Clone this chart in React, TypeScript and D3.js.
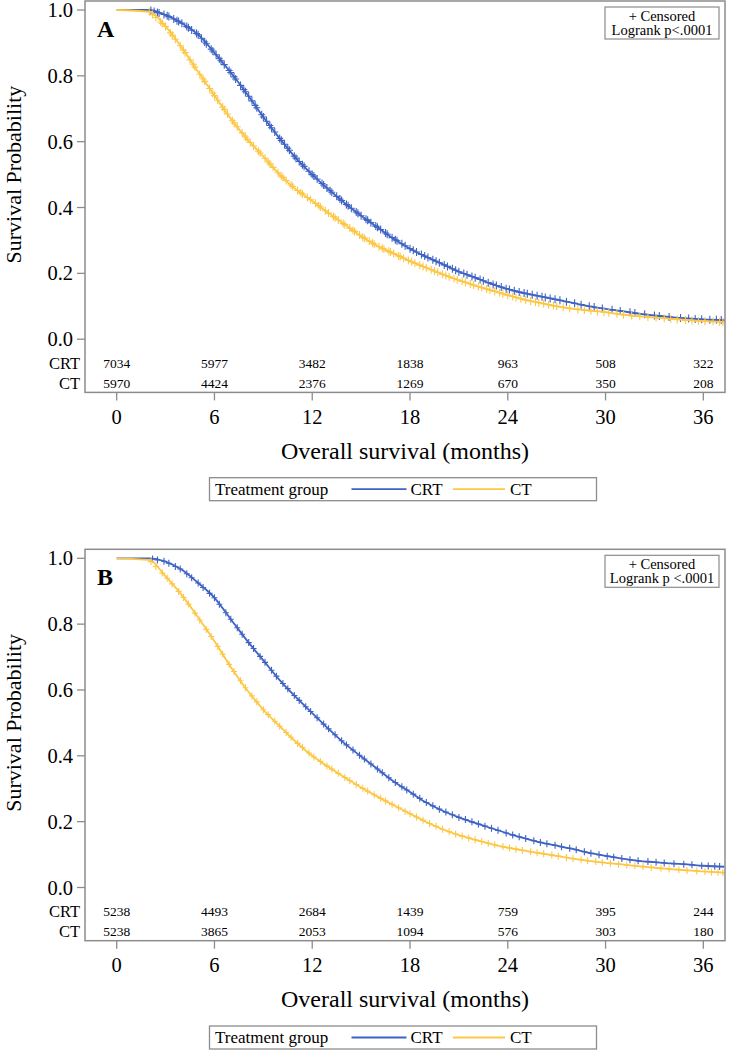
import React from 'react';
import * as d3 from 'd3';

// ---------- DATA ----------
const months = [0, 2, 3, 4, 5, 6, 7, 8, 9, 10, 11, 12, 13, 14, 15, 16, 17, 18, 19, 20, 21, 22, 23, 24, 25, 26, 27, 28, 29, 30, 31, 32, 33, 34, 35, 36, 37.3];

const survA_CRT = [1, 1.0, 0.985, 0.96, 0.925, 0.87, 0.81, 0.745, 0.675, 0.61, 0.55, 0.5, 0.455, 0.413, 0.375, 0.34, 0.305, 0.275, 0.25, 0.228, 0.205, 0.187, 0.168, 0.152, 0.14, 0.13, 0.12, 0.11, 0.1, 0.092, 0.085, 0.078, 0.072, 0.067, 0.063, 0.06, 0.058];
const survA_CT = [1, 0.995, 0.95, 0.885, 0.812, 0.74, 0.67, 0.608, 0.555, 0.5, 0.455, 0.42, 0.383, 0.348, 0.313, 0.283, 0.26, 0.237, 0.217, 0.197, 0.179, 0.163, 0.148, 0.134, 0.12, 0.11, 0.1, 0.092, 0.087, 0.082, 0.075, 0.07, 0.066, 0.062, 0.058, 0.055, 0.052];
const survB_CRT = [1, 1.0, 0.99, 0.965, 0.925, 0.88, 0.815, 0.75, 0.69, 0.63, 0.578, 0.53, 0.482, 0.437, 0.398, 0.36, 0.322, 0.29, 0.258, 0.233, 0.213, 0.196, 0.18, 0.164, 0.15, 0.137, 0.127, 0.117, 0.105, 0.096, 0.088, 0.081, 0.077, 0.073, 0.07, 0.066, 0.063];
const survB_CT = [1, 0.995, 0.945, 0.888, 0.82, 0.748, 0.67, 0.6, 0.54, 0.49, 0.442, 0.4, 0.366, 0.334, 0.304, 0.276, 0.25, 0.224, 0.199, 0.177, 0.159, 0.145, 0.132, 0.121, 0.112, 0.104, 0.096, 0.088, 0.081, 0.075, 0.07, 0.065, 0.06, 0.056, 0.052, 0.049, 0.045];

const censorA_CRT = [2.1, 2.3, 2.5, 2.6, 2.9, 3.1, 3.2, 3.5, 3.7, 3.8, 4.0, 4.3, 4.4, 4.6, 4.9, 5.0, 5.2, 5.4, 5.5, 5.8, 5.9, 6.1, 6.3, 6.4, 6.6, 6.9, 7.0, 7.2, 7.3, 7.6, 7.8, 7.9, 8.1, 8.3, 8.5, 8.6, 8.9, 9.0, 9.2, 9.4, 9.5, 9.7, 10.0, 10.1, 10.3, 10.5, 10.6, 10.9, 11.0, 11.2, 11.4, 11.5, 11.8, 12.0, 12.1, 12.3, 12.6, 12.7, 12.9, 13.1, 13.2, 13.5, 13.7, 13.8, 14.1, 14.2, 14.4, 14.7, 14.8, 15.0, 15.3, 15.4, 15.6, 15.9, 16.0, 16.2, 16.5, 16.6, 16.9, 17.1, 17.2, 17.5, 17.7, 18.0, 18.2, 18.4, 18.7, 18.9, 19.1, 19.4, 19.6, 19.8, 20.1, 20.3, 20.6, 20.8, 21.0, 21.3, 21.5, 21.8, 22.0, 22.3, 22.5, 22.8, 23.1, 23.3, 23.6, 23.9, 24.1, 24.4, 24.7, 25.0, 25.2, 25.5, 25.8, 26.1, 26.3, 26.6, 26.9, 27.2, 27.6, 28.1, 28.5, 29.0, 29.3, 29.8, 30.4, 30.9, 31.5, 31.8, 32.4, 33.0, 33.3, 33.9, 34.6, 35.1, 35.5, 35.9, 36.4, 36.8, 37.1];
const censorA_CT = [2.0, 2.2, 2.4, 2.7, 2.8, 3.0, 3.3, 3.4, 3.6, 3.9, 4.1, 4.2, 4.5, 4.7, 4.8, 5.1, 5.3, 5.4, 5.7, 5.9, 6.0, 6.2, 6.5, 6.6, 6.8, 7.1, 7.2, 7.4, 7.7, 7.9, 8.0, 8.2, 8.4, 8.7, 8.8, 9.1, 9.3, 9.4, 9.6, 9.9, 10.1, 10.2, 10.4, 10.7, 10.8, 11.1, 11.3, 11.4, 11.7, 11.9, 12.2, 12.4, 12.5, 12.8, 13.0, 13.3, 13.4, 13.6, 13.9, 14.0, 14.3, 14.5, 14.6, 14.9, 15.1, 15.2, 15.5, 15.7, 15.8, 16.1, 16.3, 16.4, 16.7, 16.8, 17.0, 17.3, 17.4, 17.6, 17.9, 18.1, 18.3, 18.6, 18.8, 19.0, 19.3, 19.5, 19.7, 20.0, 20.2, 20.4, 20.7, 20.9, 21.2, 21.4, 21.7, 21.9, 22.2, 22.4, 22.7, 22.9, 23.2, 23.5, 23.7, 24.0, 24.3, 24.5, 24.8, 25.1, 25.4, 25.7, 25.9, 26.2, 26.5, 26.8, 27.0, 27.4, 27.8, 28.3, 28.7, 29.1, 29.5, 29.9, 30.2, 30.7, 31.1, 31.6, 32.1, 32.6, 33.1, 33.6, 34.0, 34.4, 34.9, 35.3, 35.7, 36.1, 36.6, 37.0, 37.2];
const censorB_CRT = [2.2, 2.5, 2.9, 3.2, 3.6, 3.9, 4.3, 4.6, 5.0, 5.3, 5.7, 6.0, 6.3, 6.7, 7.0, 7.4, 7.7, 8.1, 8.4, 8.8, 9.1, 9.5, 9.8, 10.2, 10.5, 10.9, 11.2, 11.6, 11.9, 12.3, 12.7, 13.0, 13.4, 13.8, 14.1, 14.5, 14.9, 15.2, 15.6, 16.0, 16.3, 16.7, 17.1, 17.5, 17.8, 18.2, 18.6, 19.0, 19.4, 19.8, 20.2, 20.6, 21.0, 21.4, 21.8, 22.2, 22.6, 23.0, 23.4, 23.9, 24.3, 24.7, 25.1, 25.6, 26.0, 26.4, 26.9, 27.3, 27.8, 28.2, 28.7, 29.1, 29.6, 30.1, 30.5, 31.0, 31.5, 32.0, 32.6, 33.1, 33.6, 34.2, 34.8, 35.3, 35.9, 36.3, 36.7, 37.0];
const censorB_CT = [2.1, 2.4, 2.8, 3.1, 3.4, 3.8, 4.1, 4.4, 4.8, 5.1, 5.5, 5.8, 6.2, 6.5, 6.9, 7.2, 7.6, 7.9, 8.3, 8.6, 9.0, 9.3, 9.7, 10.0, 10.4, 10.7, 11.1, 11.4, 11.8, 12.1, 12.5, 12.9, 13.2, 13.6, 14.0, 14.3, 14.7, 15.1, 15.4, 15.8, 16.2, 16.5, 16.9, 17.3, 17.7, 18.0, 18.4, 18.8, 19.2, 19.6, 20.0, 20.4, 20.8, 21.2, 21.6, 22.0, 22.4, 22.8, 23.2, 23.7, 24.1, 24.5, 24.9, 25.4, 25.8, 26.2, 26.7, 27.1, 27.6, 28.0, 28.5, 28.9, 29.4, 29.8, 30.3, 30.8, 31.3, 31.8, 32.3, 32.8, 33.4, 33.9, 34.5, 35.0, 35.6, 36.1, 36.5, 36.9, 37.2];

const xTicks = [0, 6, 12, 18, 24, 30, 36];
const yTicks = [0, 0.2, 0.4, 0.6, 0.8, 1.0];
const groups = ['CRT', 'CT'];
const atRiskA_CRT = [7034, 5977, 3482, 1838, 963, 508, 322];
const atRiskA_CT = [5970, 4424, 2376, 1269, 670, 350, 208];
const atRiskB_CRT = [5238, 4493, 2684, 1439, 759, 395, 244];
const atRiskB_CT = [5238, 3865, 2053, 1094, 576, 303, 180];

// ---------- STYLE ----------
const BLUE = '#3f63c4';
const YELLOW = '#fdc746';
const FRAME = '#8c8c8c';
const FONT = '"Liberation Serif", "Times New Roman", serif';

const L = 85, R = 725;

type PanelProps = {
  oy: number;
  letter: string;
  crt: number[];
  ct: number[];
  cCrt: number[];
  cCt: number[];
  riskCrt: number[];
  riskCt: number[];
  logrank: string;
  markW: number;
  markH: number;
};

function Panel({ oy, letter, crt, ct, cCrt, cCt, riskCrt, riskCt, logrank, markW, markH }: PanelProps) {
  const x = d3.scaleLinear().domain([-1.945, 37.33]).range([L, R]);
  const y = d3.scaleLinear().domain([0, 1]).range([oy + 339.2, oy + 10]);
  const top = oy + 1;
  const bottom = oy + 392.4;

  const line = d3
    .line<number>()
    .x((_, i) => x(months[i]))
    .y((d) => y(d))
    .curve(d3.curveMonotoneX);

  const series = [
    { vals: crt, cens: cCrt, color: BLUE },
    { vals: ct, cens: cCt, color: YELLOW },
  ];

  const plusPath = (vals: number[], cens: number[]) => {
    const interp = d3.scaleLinear().domain(months).range(vals);
    return cens
      .map((t) => {
        const cx = x(t);
        const cy = y(interp(t));
        return `M${cx - markW},${cy}h${2 * markW}M${cx},${cy - markH}v${2 * markH}`;
      })
      .join('');
  };

  const yMid = (y(0) + y(1)) / 2;
  const legY = oy + 477.7;

  return (
    <g>
      <defs>
        <clipPath id={`clip-${letter}`}>
          <rect x={L} y={top} width={R - L} height={bottom - top} />
        </clipPath>
      </defs>
      {/* curves */}
      <g clipPath={`url(#clip-${letter})`}>
        {series.map((s, k) => (
          <g key={k}>
            <path d={line(s.vals) || ''} fill="none" stroke={s.color} strokeWidth={1.8} />
            <path d={plusPath(s.vals, s.cens)} fill="none" stroke={s.color} strokeWidth={1.1} />
          </g>
        ))}
      </g>
      {/* frame */}
      <rect x={L} y={top} width={R - L} height={bottom - top} fill="none" stroke={FRAME} strokeWidth={1.5} />
      {/* y ticks */}
      {yTicks.map((t) => (
        <g key={t}>
          <line x1={L - 8} x2={L} y1={y(t)} y2={y(t)} stroke={FRAME} strokeWidth={1.3} />
          <text x={L - 12} y={y(t) + 7} textAnchor="end" fontSize={20.5} fontFamily={FONT}>
            {t.toFixed(1)}
          </text>
        </g>
      ))}
      {/* y label */}
      <text
        transform={`translate(21,${yMid}) rotate(-90)`}
        textAnchor="middle"
        fontSize={22}
        fontFamily={FONT}
      >
        Survival Probability
      </text>
      {/* panel letter */}
      <text x={97} y={oy + 37} fontSize={24} fontWeight="bold" fontFamily={FONT}>
        {letter}
      </text>
      {/* censor legend */}
      <rect x={605} y={oy + 7} width={114} height={32} fill="white" stroke={FRAME} strokeWidth={1.2} />
      <text x={662} y={oy + 20.5} textAnchor="middle" fontSize={14.5} fontFamily={FONT}>
        + Censored
      </text>
      <text x={662} y={oy + 35} textAnchor="middle" fontSize={14.5} fontFamily={FONT}>
        {logrank}
      </text>
      {/* at risk table */}
      {[riskCrt, riskCt].map((row, r) => (
        <g key={r}>
          <text x={80} y={oy + 369 + r * 20} textAnchor="end" fontSize={16.5} fontFamily={FONT}>
            {groups[r]}
          </text>
          {row.map((v, i) => (
            <text key={i} x={x(xTicks[i])} y={oy + 368 + r * 20} textAnchor="middle" fontSize={13.5} fontFamily={FONT}>
              {v}
            </text>
          ))}
        </g>
      ))}
      {/* x ticks */}
      {xTicks.map((t) => (
        <g key={t}>
          <line x1={x(t)} x2={x(t)} y1={bottom} y2={bottom + 8} stroke={FRAME} strokeWidth={1.3} />
          <text x={x(t)} y={oy + 424} textAnchor="middle" fontSize={20.5} fontFamily={FONT}>
            {t}
          </text>
        </g>
      ))}
      <text x={(L + R) / 2} y={oy + 459} textAnchor="middle" fontSize={24} fontFamily={FONT}>
        Overall survival (months)
      </text>
      {/* group legend */}
      <rect x={209.5} y={legY} width={387} height={23} fill="white" stroke={FRAME} strokeWidth={1.3} />
      <text x={215} y={legY + 17} fontSize={17} fontFamily={FONT}>
        Treatment group
      </text>
      <line x1={351.5} x2={406.5} y1={legY + 11.5} y2={legY + 11.5} stroke={BLUE} strokeWidth={1.8} />
      <text x={410.5} y={legY + 17} fontSize={17} fontFamily={FONT}>
        {groups[0]}
      </text>
      <line x1={453} x2={505} y1={legY + 11.5} y2={legY + 11.5} stroke={YELLOW} strokeWidth={1.8} />
      <text x={510} y={legY + 17} fontSize={17} fontFamily={FONT}>
        {groups[1]}
      </text>
    </g>
  );
}

export default function App() {
  return (
    <svg
      width={730}
      height={1050}
      viewBox="0 0 730 1050"
      style={{ position: 'absolute', left: 0, top: 0, background: 'white' }}
    >
      <rect width={730} height={1050} fill="white" />
      <Panel
        oy={0}
        letter="A"
        crt={survA_CRT}
        ct={survA_CT}
        cCrt={censorA_CRT}
        cCt={censorA_CT}
        riskCrt={atRiskA_CRT}
        riskCt={atRiskA_CT}
        logrank="Logrank p<.0001"
        markW={3.5}
        markH={4}
      />
      <Panel
        oy={548.3}
        letter="B"
        crt={survB_CRT}
        ct={survB_CT}
        cCrt={censorB_CRT}
        cCt={censorB_CT}
        riskCrt={atRiskB_CRT}
        riskCt={atRiskB_CT}
        logrank="Logrank p <.0001"
        markW={3}
        markH={3.5}
      />
    </svg>
  );
}
